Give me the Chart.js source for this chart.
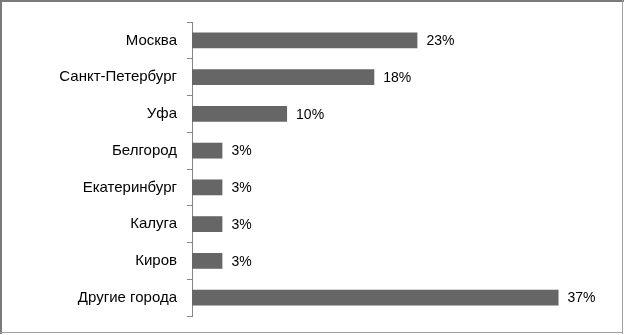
<!DOCTYPE html>
<html>
<head>
<meta charset="utf-8">
<script src="https://cdn.jsdelivr.net/npm/chart.js@4/dist/chart.umd.min.js"></script>
<style>
  html, body { margin: 0; padding: 0; background: #fff; }
  #wrap { width: 624px; height: 335px; }
</style>
</head>
<body>
<div id="wrap"><canvas id="cityChart" width="624" height="335"></canvas></div>
<script>
const cities = ['Москва', 'Санкт-Петербург', 'Уфа', 'Белгород', 'Екатеринбург', 'Калуга', 'Киров', 'Другие города'];
const shares = [23, 18.6, 9.7, 3.1, 3.1, 3.1, 3.1, 37.4];
const shareLabels = ['23%', '18%', '10%', '3%', '3%', '3%', '3%', '37%'];

const valueLabels = {
  id: 'valueLabels',
  afterDatasetsDraw(chart) {
    const c = chart.ctx;
    const meta = chart.getDatasetMeta(0);
    c.save();
    c.font = '14px "Liberation Sans", Arial, sans-serif';
    c.fillStyle = '#000';
    c.textBaseline = 'middle';
    c.textAlign = 'left';
    meta.data.forEach((bar, i) => {
      c.fillText(shareLabels[i], bar.x + 9, bar.y + 1);
    });
    c.restore();
  }
};

const frame = {
  id: 'frame',
  beforeDraw(chart) {
    const c = chart.ctx;
    c.save();
    c.fillStyle = '#fff';
    c.fillRect(0, 0, chart.width, chart.height);
    c.fillStyle = '#7a7a7a';
    c.fillRect(0, 0, 624, 2);   // top
    c.fillRect(0, 0, 2, 334);   // left
    c.fillStyle = '#a0a0a0';
    c.fillRect(622, 0, 1, 334); // right
    c.fillRect(0, 332, 623, 1); // bottom
    c.restore();
  }
};

const ctx = document.getElementById('cityChart').getContext('2d');
const cityChart = new Chart(ctx, {
  type: 'bar',
  data: {
    labels: cities,
    datasets: [
      {
        data: shares,
        backgroundColor: '#666666',
        borderWidth: 0,
        barPercentage: 0.43,
        categoryPercentage: 1
      }
    ]
  },
  options: {
    indexAxis: 'y',
    responsive: false,
    animation: false,
    layout: { padding: { top: 22, bottom: 16, right: 40, left: 0 } },
    plugins: {
      legend: { display: false },
      tooltip: { enabled: false }
    },
    scales: {
      x: {
        display: false,
        min: 0,
        max: 40
      },
      y: {
        afterFit(scale) { scale.width = 192; },
        grid: {
          drawOnChartArea: false,
          drawTicks: true,
          tickLength: 5,
          color: '#868686',
          lineWidth: 1
        },
        border: { display: true, color: '#868686', width: 1 },
        ticks: {
          color: '#000',
          padding: 10,
          font: { family: '"Liberation Sans", Arial, sans-serif', size: 15 }
        }
      }
    }
  },
  plugins: [frame, valueLabels]
});
</script>
</body>
</html>
